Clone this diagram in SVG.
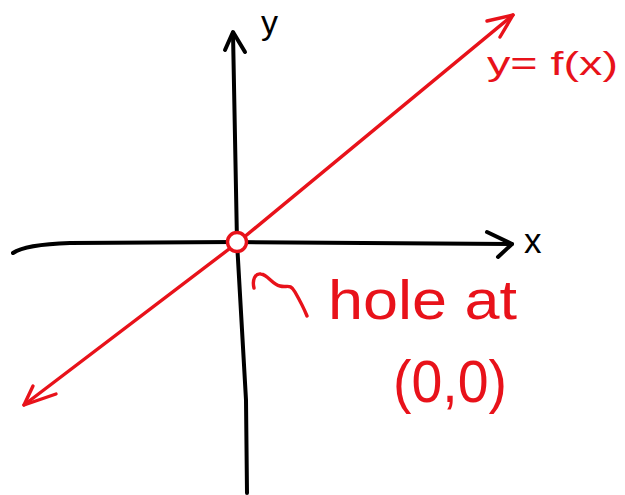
<svg xmlns="http://www.w3.org/2000/svg" width="625" height="495" viewBox="0 0 625 495">
<style>
.ax{fill:none;stroke:#000;stroke-width:4;stroke-linecap:round;stroke-linejoin:round}
.rd{fill:none;stroke:#e8121a;stroke-width:3.4;stroke-linecap:round;stroke-linejoin:round}
.lblk{font-family:"Liberation Sans",Arial,sans-serif;fill:#000}
.lred{font-family:"Liberation Sans",Arial,sans-serif;fill:#e8121a}
</style>
<rect width="625" height="495" fill="#fff"/>
<g id="connectors">
<g id="x-axis">
<path class="ax" d="M13,253 C20,248 40,244 70,243 L236,242 L512,244"/>
<path class="ax" d="M487,232 L512,244 L498,257"/>
</g>
<g id="y-axis">
<path class="ax" d="M247,493 L246,400 L237,242 L233,33"/>
<path class="ax" d="M225,50 L233,32 L245,52"/>
</g>
<g id="graph-line">
<path class="rd" d="M24,405 L237,243 L513,15"/>
<path class="rd" d="M487,21 L513,15 L500,37"/>
<path class="rd" d="M56,394 L24,405 L33,386"/>
</g>
<path id="pointer" class="rd" d="M254,288 C252,280 255,273 261,274 C268,275 272,284 280,286 C287,288 290,283 295,292 C299,299 303,306 307,316"/>
</g>
<g id="hole">
<circle cx="237" cy="242" r="9.5" fill="#fff" stroke="#e8121a" stroke-width="3.4"/>
</g>
<g id="labels">
<text class="lblk" x="261" y="34" font-size="34">y</text>
<text class="lblk" x="524" y="253" font-size="35">x</text>
<text class="lred" x="487" y="75" font-size="34" textLength="131" lengthAdjust="spacingAndGlyphs">y= f(x)</text>
<text class="lred" font-size="56">
<tspan x="328" y="319" textLength="189" lengthAdjust="spacingAndGlyphs">hole at</tspan>
<tspan x="393" y="402" font-size="60" textLength="114" lengthAdjust="spacingAndGlyphs">(0,0)</tspan>
</text>
</g>
</svg>
